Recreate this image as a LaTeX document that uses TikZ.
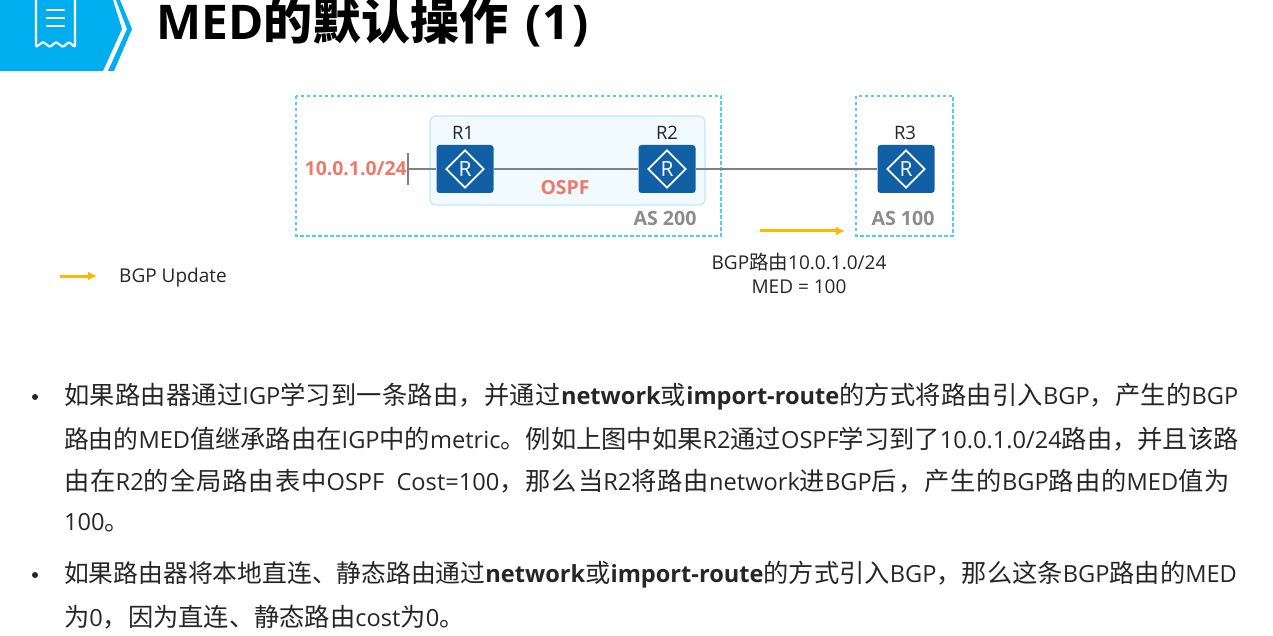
\documentclass[tikz,border=0pt]{standalone}
\usepackage{fontspec}
\setmainfont{Open Sans}
\newfontfamily\cjk[Scale=1.025]{Noto Sans CJK SC}
\newfontfamily\cjkbody[Scale=1.07]{Noto Sans CJK SC}
\newfontfamily\cjkloose[Scale=1.07,LetterSpace=1]{Noto Sans CJK SC}
\newfontfamily\cjkwide[Scale=1.07,LetterSpace=4]{Noto Sans CJK SC}
\newfontfamily\cjktight[Scale=1.05]{Noto Sans CJK SC}
\newcommand{\zh}[1]{{\cjkbody #1}}
\newcommand{\zl}[1]{{\cjkloose #1}}
\newcommand{\zw}[1]{{\cjkwide #1}}
\newcommand{\zt}[1]{{\cjktight #1}}
\usetikzlibrary{shapes.geometric,arrows.meta}
\definecolor{headblue}{RGB}{0,174,239}
\definecolor{routerblue}{RGB}{17,96,166}
\definecolor{dashblue}{RGB}{80,205,248}
\definecolor{areafill}{RGB}{241,250,254}
\definecolor{areaedge}{RGB}{190,232,250}
\definecolor{salmon}{RGB}{240,120,105}
\definecolor{updateyellow}{RGB}{255,184,0}
\definecolor{bodytext}{RGB}{38,38,38}
\tikzset{
  asbox/.style={draw=dashblue,line width=1.5pt,dash pattern=on 3.5pt off 2.5pt},
  routerbox/.style={fill=routerblue,rounded corners=3pt,minimum width=57pt,minimum height=48pt,inner sep=0pt},
  routermark/.style={shape=diamond,draw=white,line width=1.8pt,minimum width=38pt,minimum height=38pt,inner sep=0pt,text=white,font=\fontsize{21}{21}\selectfont},
  routername/.style={font=\fontsize{18.5}{18.5}\selectfont,text=bodytext},
  aslabel/.style={font=\fontsize{19.6}{19.6}\selectfont\bfseries,text=black!45},
  redlabel/.style={font=\fontsize{19.4}{19.4}\selectfont\bfseries,text=salmon},
  linkline/.style={draw=black!50,line width=1.5pt},
  updatearrow/.style={draw=updateyellow,line width=3pt,-{Latex[length=9pt,width=9pt]}},
  smalltext/.style={font=\fontsize{19}{24}\selectfont,text=bodytext},
  bodyline/.style={anchor=west,inner sep=0pt,font=\fontsize{23.6}{24}\selectfont,text=bodytext},
  bulletdot/.style={fill=bodytext,circle,inner sep=0pt,minimum size=6pt}
}
\begin{document}
\begin{tikzpicture}[x=1pt,y=-1pt]
  \useasboundingbox (0,0) rectangle (1273,636);
  % header
  \fill[headblue] (0,0)--(113,0)--(122,29)--(103,71)--(0,71)--cycle;
  \fill[headblue] (116,0)--(120,0)--(132,29)--(114,71)--(108,71)--(127,29)--cycle;
  \draw[white,line width=2.2pt,line join=round,rounded corners=1pt] (36,0)--(36,47)--(43,42)--(50,47)--(56,42)--(63,47)--(69,42)--(75,47)--(75,0);
  \foreach \vertical in {10,18,26}
    \draw[white,line width=2pt] (46,\vertical)--(65,\vertical);
  \node[anchor=west,inner sep=0pt,font=\fontsize{47.8}{48}\selectfont\bfseries] (title) at (156,22) {MED{\cjk 的默认操作}\hspace{5pt} (1\hspace{3pt})};
  % areas
  \draw[asbox] (296,96) rectangle (721,236);
  \draw[asbox] (856,96) rectangle (953,236);
  \fill[areafill,draw=areaedge,line width=1.2pt,rounded corners=6pt] (430,116) rectangle (705,205);
  % routers
  \node[routerbox] (r1) at (465,169) {};
  \node[routerbox] (r2) at (667,169) {};
  \node[routerbox] (r3) at (906,169) {};
  \foreach \router in {r1,r2,r3}
    \node[routermark] at (\router) {R};
  \node[routername] (r1name) at (463,133) {R1};
  \node[routername] (r2name) at (667,133) {R2};
  \node[routername] (r3name) at (905,133) {R3};
  % links
  \coordinate (stub) at (408,169);
  \coordinate (stubtop) at (408,153);
  \coordinate (stubbot) at (408,185);
  \draw[linkline,line width=1.2pt] (stubtop)--(stubbot);
  \draw[linkline] (stub)--(r1);
  \draw[linkline] (r1)--(r2);
  \draw[linkline] (r2)--(r3);
  % labels
  \node[redlabel,anchor=east,inner sep=0pt] (prefix) at (407,169) {10.0.1.0/24};
  \node[redlabel] (ospf) at (565,188) {OSPF};
  \node[aslabel] (as200) at (665,218) {AS 200};
  \node[aslabel] (as100) at (903,218) {AS 100};
  % update
  \coordinate (upstart) at (760,231);
  \coordinate (upend) at (845,231);
  \draw[updatearrow] (upstart)--(upend);
  \node[smalltext,align=center] (route) at (799,273) {BGP{\cjk 路由}10.0.1.0/24\\MED = 100};
  \coordinate (keystart) at (60,276);
  \coordinate (keyend) at (97,276);
  \draw[updatearrow] (keystart)--(keyend);
  \node[smalltext,anchor=west,inner sep=0pt] (key) at (119,278) {BGP Update};
  % text
  \node[bulletdot] (dot1) at (35,397) {};
  \node[bulletdot] (dot2) at (35,575) {};
  \node[bodyline] (line1) at (64,397) {\zl{如果路由器通过}IGP\zl{学习到一条路由，并通过}\textbf{network}\zl{或}\textbf{import-route}\zl{的方式将路由引入}BGP\zl{，产生的}BGP};
  \node[bodyline] (line2) at (64,439) {\zt{路由的}MED\zh{值继承路由在}IGP\zh{中的}metric\zh{。例如上图中如果}R2\zh{通过}OSPF\zh{学习到了}10.0.1.0/24\zh{路由，并且该路}};
  \node[bodyline] (line3) at (64,481) {\zw{由在}R2\zw{的全局路由表中}OSPF\ \ Cost=100\zw{，那么当}R2\zw{将路由}network\zw{进}BGP\zw{后，产生的}BGP\zw{路由的}MED\zw{值为}};
  \node[bodyline] (line4) at (64,523) {100\zh{。}};
  \node[bodyline] (line5) at (64,575) {\zt{如果路由器将本地直连、静态路由通过}\textbf{network}\zh{或}\textbf{import-route}\zh{的方式引入}BGP\zh{，那么这条}BGP\zh{路由的}MED};
  \node[bodyline] (line6) at (64,617) {\zh{为}0\zh{，因为直连、静态路由}cost\zh{为}0\zh{。}};
\end{tikzpicture}
\end{document}
